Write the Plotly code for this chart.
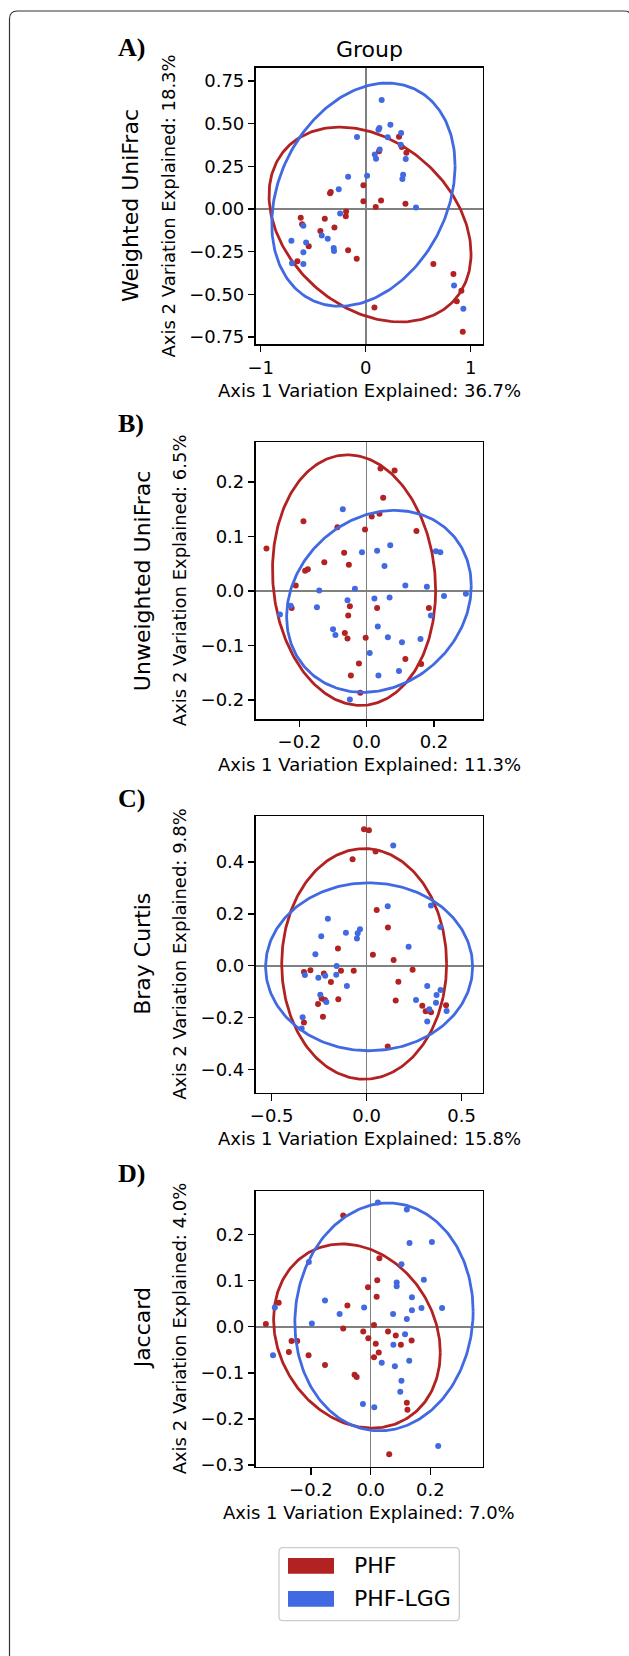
import numpy as np
import plotly.graph_objects as go

# ---------------- data ----------------
groups = ["PHF", "PHF-LGG"]
group_colors = ["#B22222", "#4169E1"]

panel_letters = ["A)", "B)", "C)", "D)"]
row_titles = ["Weighted UniFrac", "Unweighted UniFrac", "Bray Curtis", "Jaccard"]
axis1_pct = ["36.7%", "11.3%", "15.8%", "7.0%"]
axis2_pct = ["18.3%", "6.5%", "9.8%", "4.0%"]

# Panel A - Weighted UniFrac
A_phf_x = [0.317, 0.343, 0.387, 0.127, -0.022, -0.022, 0.146, 0.095, 0.378, -0.340, -0.333, -0.187, -0.190, -0.619,
           -0.606, -0.390, -0.298, -0.432, -0.543, -0.168, -0.086, -0.651, 0.644, 0.835, 0.911, 0.867, 0.083, 0.924]
A_phf_y = [0.424, 0.363, 0.330, 0.338, 0.139, 0.045, 0.049, 0.012, 0.031, 0.092, 0.100, -0.014, -0.043, -0.051,
           -0.090, -0.057, -0.109, -0.129, -0.219, -0.242, -0.291, -0.307, -0.322, -0.381, -0.479, -0.541, -0.578, -0.719]
A_lgg_x = [0.152, 0.235, 0.121, 0.130, 0.210, 0.337, 0.333, 0.381, 0.133, 0.086, 0.098, -0.083, 0.356, 0.349, 0.013,
           -0.168, -0.257, 0.479, -0.244, -0.594, -0.419, -0.362, -0.708, -0.568, -0.594, -0.305, -0.302, -0.702,
           -0.594, 0.841, 0.930]
A_lgg_y = [0.639, 0.494, 0.465, 0.475, 0.420, 0.445, 0.377, 0.293, 0.348, 0.320, 0.295, 0.422, 0.201, 0.176, 0.195,
           0.189, 0.115, 0.008, -0.027, -0.098, -0.156, -0.174, -0.186, -0.197, -0.254, -0.229, -0.246, -0.318,
           -0.322, -0.449, -0.584]

# Panel B - Unweighted UniFrac
B_phf_x = [0.041, 0.083, 0.049, -0.188, -0.298, 0.015, 0.038, -0.087, -0.005, 0.148, -0.067, -0.126, -0.053, -0.183,
           -0.175, -0.211, -0.223, -0.050, -0.055, 0.031, 0.185, -0.065, -0.057, -0.003, 0.115, 0.162, -0.023,
           -0.047, -0.019]
B_phf_y = [0.225, 0.221, 0.171, 0.128, 0.078, 0.137, 0.142, 0.117, 0.113, 0.110, 0.070, 0.053, 0.048, 0.037, 0.040,
           0.010, -0.031, -0.028, -0.045, -0.031, -0.031, -0.077, -0.087, -0.086, -0.125, -0.134, -0.133, -0.155,
           -0.187]
B_lgg_x = [-0.071, 0.070, 0.031, -0.014, 0.053, 0.206, 0.219, 0.115, 0.179, -0.141, -0.035, 0.230, 0.295, -0.057,
           0.023, 0.068, -0.226, -0.258, -0.148, 0.191, 0.033, -0.100, -0.093, 0.063, 0.105, 0.160, 0.009, 0.035,
           0.096, -0.050]
B_lgg_y = [0.150, 0.084, 0.074, 0.071, 0.046, 0.073, 0.071, 0.010, 0.008, 0.001, 0.004, -0.009, -0.005, -0.017,
           -0.014, -0.012, -0.027, -0.043, -0.030, -0.045, -0.065, -0.070, -0.081, -0.085, -0.094, -0.088, -0.114,
           -0.155, -0.147, -0.199]

# Panel C - Bray Curtis
C_phf_x = [-0.014, 0.012, 0.047, -0.074, 0.053, 0.112, -0.151, 0.033, 0.142, 0.242, -0.330, -0.296, -0.135, -0.068,
           -0.225, -0.188, 0.167, -0.237, -0.219, -0.256, -0.149, 0.153, 0.293, 0.418, 0.311, 0.339, -0.230, -0.330,
           0.111]
C_phf_y = [0.527, 0.523, 0.441, 0.411, 0.215, 0.148, 0.067, 0.042, 0.022, -0.015, -0.024, -0.017, -0.019, -0.019,
           -0.030, -0.063, -0.062, -0.126, -0.132, -0.148, -0.129, -0.134, -0.154, -0.152, -0.176, -0.179, -0.197,
           -0.219, -0.312]
C_lgg_x = [0.140, 0.111, 0.339, -0.204, 0.388, -0.035, -0.109, -0.047, -0.051, -0.239, 0.221, -0.270, -0.158, -0.325,
           -0.254, -0.218, -0.160, -0.104, 0.319, 0.389, -0.244, -0.212, 0.260, 0.368, 0.365, 0.330, 0.421, -0.337,
           0.319, -0.342]
C_lgg_y = [0.464, 0.230, 0.233, 0.181, 0.150, 0.141, 0.127, 0.125, 0.105, 0.114, 0.073, 0.044, -0.001, -0.036,
           -0.046, -0.039, -0.035, -0.078, -0.078, -0.094, -0.112, -0.140, -0.132, -0.113, -0.143, -0.168, -0.175,
           -0.199, -0.215, -0.242]

# Panel D - Jaccard
D_phf_x = [-0.092, 0.029, 0.022, -0.009, 0.020, -0.078, -0.308, -0.351, 0.011, -0.092, -0.025, 0.058, 0.084, 0.137,
           -0.008, -0.265, -0.246, 0.017, 0.101, -0.274, 0.027, -0.208, 0.011, -0.153, -0.054, -0.047, 0.121, 0.123,
           0.062]
D_phf_y = [0.242, 0.149, 0.101, 0.086, 0.065, 0.046, 0.052, 0.006, 0.004, -0.004, -0.010, -0.010, -0.019, -0.030,
           -0.025, -0.031, -0.031, -0.037, -0.039, -0.055, -0.056, -0.062, -0.066, -0.083, -0.104, -0.109, -0.165,
           -0.180, -0.277]
D_lgg_x = [0.024, 0.121, 0.205, 0.130, -0.207, 0.103, 0.178, 0.087, 0.087, 0.138, -0.153, 0.170, 0.239, -0.321,
           -0.022, -0.104, 0.138, 0.075, 0.121, -0.197, 0.115, 0.076, -0.327, 0.129, 0.037, 0.081, 0.103, 0.099,
           -0.026, 0.012, 0.226]
D_lgg_y = [0.270, 0.255, 0.184, 0.182, 0.141, 0.136, 0.102, 0.096, 0.088, 0.064, 0.057, 0.041, 0.041, 0.042, 0.042,
           0.028, 0.036, 0.028, 0.017, 0.007, -0.016, -0.039, -0.062, -0.074, -0.078, -0.086, -0.117, -0.141, -0.168,
           -0.175, -0.259]

# confidence ellipses: [center x, center y, half-width, half-height, correlation]
A_phf_ellipse = [0.041, -0.091, 0.962, 0.571, -0.30]
A_lgg_ellipse = [-0.022, 0.084, 0.873, 0.654, 0.26]
B_phf_ellipse = [-0.0375, 0.020, 0.2425, 0.230, -0.08]
B_lgg_ellipse = [0.0365, -0.019, 0.2745, 0.167, 0.17]
C_phf_ellipse = [-0.013, 0.007, 0.434, 0.445, 0.0]
C_lgg_ellipse = [0.013, -0.004, 0.545, 0.324, 0.0]
D_phf_ellipse = [-0.046, -0.020, 0.279, 0.200, -0.18]
D_lgg_ellipse = [0.0445, 0.0215, 0.2985, 0.2475, 0.05]

# axis ranges and ticks
A_xrange, A_yrange = [-1.048, 1.114], [-0.793, 0.828]
B_xrange, B_yrange = [-0.330, 0.345], [-0.235, 0.273]
C_xrange, C_yrange = [-0.584, 0.611], [-0.490, 0.578]
D_xrange, D_yrange = [-0.385, 0.375], [-0.304, 0.295]

A_xticks, A_xticktext = [-1, 0, 1], ["\u22121", "0", "1"]
A_yticks = [-0.75, -0.5, -0.25, 0, 0.25, 0.5, 0.75]
A_yticktext = ["\u22120.75", "\u22120.50", "\u22120.25", "0.00", "0.25", "0.50", "0.75"]
B_xticks, B_xticktext = [-0.2, 0, 0.2], ["\u22120.2", "0.0", "0.2"]
B_yticks = [-0.2, -0.1, 0, 0.1, 0.2]
B_yticktext = ["\u22120.2", "\u22120.1", "0.0", "0.1", "0.2"]
C_xticks, C_xticktext = [-0.5, 0, 0.5], ["\u22120.5", "0.0", "0.5"]
C_yticks = [-0.4, -0.2, 0, 0.2, 0.4]
C_yticktext = ["\u22120.4", "\u22120.2", "0.0", "0.2", "0.4"]
D_xticks, D_xticktext = [-0.2, 0, 0.2], ["\u22120.2", "0.0", "0.2"]
D_yticks = [-0.3, -0.2, -0.1, 0, 0.1, 0.2]
D_yticktext = ["\u22120.3", "\u22120.2", "\u22120.1", "0.0", "0.1", "0.2"]

# ---------------- layout helpers ----------------
W, H = 629, 1656
FONT = "DejaVu Sans"


def px(x):
    return x / W


def py(y):
    return 1 - y / H


def ellipse_xy(p, n=240):
    cx, cy, hx, hy, rho = p
    t = np.linspace(0, 2 * np.pi, n)
    phi = np.arccos(rho)
    return cx + hx * np.cos(t), cy + hy * np.cos(t - phi)


panels = [
    dict(phf=(A_phf_x, A_phf_y), lgg=(A_lgg_x, A_lgg_y), e=(A_phf_ellipse, A_lgg_ellipse),
         xr=A_xrange, yr=A_yrange, xt=(A_xticks, A_xticktext), yt=(A_yticks, A_yticktext)),
    dict(phf=(B_phf_x, B_phf_y), lgg=(B_lgg_x, B_lgg_y), e=(B_phf_ellipse, B_lgg_ellipse),
         xr=B_xrange, yr=B_yrange, xt=(B_xticks, B_xticktext), yt=(B_yticks, B_yticktext)),
    dict(phf=(C_phf_x, C_phf_y), lgg=(C_lgg_x, C_lgg_y), e=(C_phf_ellipse, C_lgg_ellipse),
         xr=C_xrange, yr=C_yrange, xt=(C_xticks, C_xticktext), yt=(C_yticks, C_yticktext)),
    dict(phf=(D_phf_x, D_phf_y), lgg=(D_lgg_x, D_lgg_y), e=(D_phf_ellipse, D_lgg_ellipse),
         xr=D_xrange, yr=D_yrange, xt=(D_xticks, D_xticktext), yt=(D_yticks, D_yticktext)),
]

# pixel geometry of plot boxes
box_left, box_right = 255.7, 482.7
box_tops = [67.7, 442.3, 816.0, 1191.0]
box_bottoms = [344.3, 719.0, 1092.7, 1466.7]
ylabel_x = [167.5, 179.5, 179.5, 179.5]
rowlabel_x = [130.0, 142.5, 142.5, 142.5]
letter_y = [47.5, 423.0, 798.5, 1173.5]

fig = go.Figure()
layout = dict(width=W, height=H, autosize=False, margin=dict(l=0, r=0, t=0, b=0, autoexpand=False),
              paper_bgcolor="white", plot_bgcolor="white", showlegend=False,
              font=dict(family=FONT, color="black"))
annotations = []
shapes = []

for i, p in enumerate(panels):
    k = "" if i == 0 else str(i + 1)
    xa, ya = "x" + k, "y" + k
    (ex1, ey1) = ellipse_xy(p["e"][0])
    (ex2, ey2) = ellipse_xy(p["e"][1])
    fig.add_trace(go.Scatter(x=p["phf"][0], y=p["phf"][1], mode="markers", xaxis=xa, yaxis=ya,
                             marker=dict(color=group_colors[0], size=6), name=groups[0], hoverinfo="x+y"))
    fig.add_trace(go.Scatter(x=ex1, y=ey1, mode="lines", xaxis=xa, yaxis=ya,
                             line=dict(color=group_colors[0], width=2.8), hoverinfo="skip"))
    fig.add_trace(go.Scatter(x=p["lgg"][0], y=p["lgg"][1], mode="markers", xaxis=xa, yaxis=ya,
                             marker=dict(color=group_colors[1], size=6), name=groups[1], hoverinfo="x+y"))
    fig.add_trace(go.Scatter(x=ex2, y=ey2, mode="lines", xaxis=xa, yaxis=ya,
                             line=dict(color=group_colors[1], width=2.8), hoverinfo="skip"))

    common = dict(showgrid=False, zeroline=True, zerolinecolor="#808080", zerolinewidth=1.6,
                  showline=True, mirror=True, linecolor="black", linewidth=1.5,
                  ticks="outside", ticklen=6.3, tickwidth=1.4, tickcolor="black", automargin=False,
                  tickfont=dict(family=FONT, size=18, color="black"), fixedrange=True)
    layout["xaxis" + k] = dict(common, domain=[px(box_left), px(box_right)], range=p["xr"],
                               tickvals=p["xt"][0], ticktext=p["xt"][1], anchor=ya)
    layout["yaxis" + k] = dict(common, domain=[py(box_bottoms[i]), py(box_tops[i])], range=p["yr"],
                               tickvals=p["yt"][0], ticktext=p["yt"][1], anchor=xa)

    cy = (box_tops[i] + box_bottoms[i]) / 2
    cx = (box_left + box_right) / 2
    annotations.append(dict(text="Axis 1 Variation Explained: " + axis1_pct[i], x=px(cx), y=py(box_bottoms[i] + 46),
                            xref="paper", yref="paper", xanchor="center", yanchor="middle", showarrow=False,
                            font=dict(family=FONT, size=18, color="black")))
    annotations.append(dict(text="Axis 2 Variation Explained: " + axis2_pct[i], x=px(ylabel_x[i]), y=py(cy),
                            xref="paper", yref="paper", xanchor="center", yanchor="middle", showarrow=False,
                            textangle=-90, font=dict(family=FONT, size=18, color="black")))
    annotations.append(dict(text=row_titles[i], x=px(rowlabel_x[i]), y=py(cy),
                            xref="paper", yref="paper", xanchor="center", yanchor="middle", showarrow=False,
                            textangle=-90, font=dict(family=FONT, size=22, color="black")))
    annotations.append(dict(text="<b>" + panel_letters[i] + "</b>", x=px(115.7), y=py(letter_y[i]),
                            xref="paper", yref="paper", xanchor="left", yanchor="middle", showarrow=False,
                            font=dict(family="Liberation Serif", size=26, color="black")))

annotations.append(dict(text="Group", x=px(369.5), y=py(49), xref="paper", yref="paper",
                        xanchor="center", yanchor="middle", showarrow=False,
                        font=dict(family=FONT, size=22, color="black")))

# legend (manual, matplotlib-style patches)
lx0, lx1, ly0, ly1, r = 279.0, 459.3, 1547.7, 1620.7, 4.0
legend_path = (f"M {px(lx0 + r)},{py(ly0)} L {px(lx1 - r)},{py(ly0)} Q {px(lx1)},{py(ly0)} {px(lx1)},{py(ly0 + r)} "
               f"L {px(lx1)},{py(ly1 - r)} Q {px(lx1)},{py(ly1)} {px(lx1 - r)},{py(ly1)} "
               f"L {px(lx0 + r)},{py(ly1)} Q {px(lx0)},{py(ly1)} {px(lx0)},{py(ly1 - r)} "
               f"L {px(lx0)},{py(ly0 + r)} Q {px(lx0)},{py(ly0)} {px(lx0 + r)},{py(ly0)} Z")
shapes.append(dict(type="path", path=legend_path, xref="paper", yref="paper",
                   line=dict(color="#cccccc", width=1.3), fillcolor="white", layer="below"))
patch_rows = [(1558.0, 1573.7), (1591.0, 1606.7)]
for g, (y0, y1) in enumerate(patch_rows):
    shapes.append(dict(type="rect", xref="paper", yref="paper", x0=px(288), x1=px(334), y0=py(y1), y1=py(y0),
                       line=dict(width=0), fillcolor=group_colors[g]))
    annotations.append(dict(text=groups[g], x=px(351.7), y=py((y0 + y1) / 2), xref="paper", yref="paper",
                            xanchor="left", yanchor="middle", showarrow=False,
                            font=dict(family=FONT, size=22, color="black")))

# outer frame (rounded, open at bottom, right side just off the page)
fx0, fx1, fy0, fr = 9.5, 632.0, 11.0, 8.0
frame_path = (f"M {px(fx0)},{py(H)} L {px(fx0)},{py(fy0 + fr)} Q {px(fx0)},{py(fy0)} {px(fx0 + fr)},{py(fy0)} "
              f"L {px(fx1 - fr)},{py(fy0)} Q {px(fx1)},{py(fy0)} {px(fx1)},{py(fy0 + fr)} L {px(fx1)},{py(H)}")
shapes.append(dict(type="path", path=frame_path, xref="paper", yref="paper",
                   line=dict(color="#333333", width=1.2)))

layout["annotations"] = annotations
layout["shapes"] = shapes
fig.update_layout(**layout)
fig.write_html("out.html", config={"displayModeBar": False, "staticPlot": True},
               post_script="document.documentElement.style.margin='0px';document.body.style.margin='0px';"
                           "document.body.style.overflow='hidden';")
